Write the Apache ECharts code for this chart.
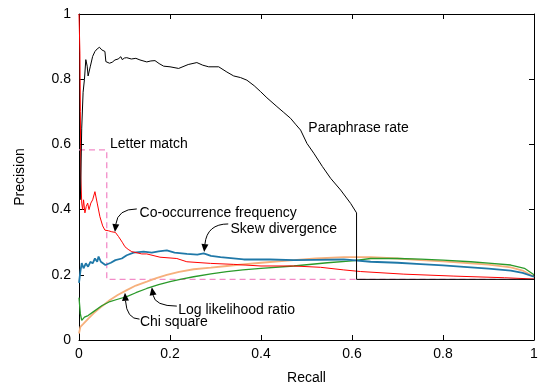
<!DOCTYPE html>
<html><head><meta charset="utf-8">
<script src="https://cdn.jsdelivr.net/npm/echarts@6/dist/echarts.min.js"></script>
<style>html,body{margin:0;padding:0;background:#fff}#c{width:540px;height:385px}</style>
</head><body><div id="c"></div>
<script>
const xTickLabels = ['0','0.2','0.4','0.6','0.8','1'];
const yTickLabels = ['0','0.2','0.4','0.6','0.8','1'];

const letterMatch = [[0,0.583],[0.061,0.583],[0.061,0.186],[1,0.186]];

const paraphraseRate = [[0.003,0.43],[0.006,0.65],[0.009,0.76],[0.012,0.80],[0.015,0.86],[0.018,0.84],[0.02,0.81],[0.025,0.84],[0.03,0.87],[0.035,0.885],[0.04,0.893],[0.045,0.898],[0.05,0.89],[0.054,0.893],[0.057,0.885],[0.059,0.854],[0.063,0.856],[0.067,0.849],[0.073,0.852],[0.079,0.859],[0.086,0.862],[0.092,0.869],[0.095,0.86],[0.1,0.865],[0.105,0.866],[0.115,0.862],[0.125,0.864],[0.134,0.859],[0.149,0.853],[0.158,0.856],[0.167,0.857],[0.176,0.848],[0.186,0.84],[0.2,0.838],[0.219,0.833],[0.24,0.845],[0.259,0.851],[0.272,0.843],[0.285,0.838],[0.307,0.838],[0.325,0.822],[0.34,0.81],[0.355,0.805],[0.369,0.797],[0.385,0.78],[0.399,0.762],[0.413,0.743],[0.435,0.716],[0.45,0.698],[0.465,0.68],[0.477,0.66],[0.487,0.644],[0.501,0.603],[0.516,0.573],[0.535,0.532],[0.553,0.496],[0.575,0.46],[0.597,0.419],[0.61,0.39],[0.61,0.186],[1,0.186]];

const cooccurrence = [[0,1],[0.002,0.88],[0.003,0.7],[0.004,0.5],[0.006,0.42],[0.008,0.4],[0.01,0.43],[0.013,0.39],[0.016,0.41],[0.019,0.42],[0.022,0.40],[0.026,0.42],[0.03,0.43],[0.035,0.455],[0.04,0.42],[0.046,0.378],[0.052,0.35],[0.057,0.337],[0.065,0.335],[0.072,0.332],[0.08,0.33],[0.087,0.317],[0.095,0.3],[0.101,0.286],[0.108,0.278],[0.116,0.271],[0.138,0.264],[0.149,0.264],[0.178,0.254],[0.215,0.25],[0.237,0.24],[0.289,0.235],[0.34,0.232],[0.4,0.227],[0.472,0.227],[0.531,0.223],[0.582,0.215],[0.619,0.21],[0.714,0.202],[0.824,0.196],[0.935,0.191],[1,0.187]];

const skewDivergence = [[0,0.175],[0.003,0.21],[0.006,0.236],[0.01,0.22],[0.015,0.235],[0.02,0.225],[0.025,0.24],[0.03,0.235],[0.035,0.25],[0.04,0.24],[0.043,0.256],[0.048,0.24],[0.052,0.245],[0.058,0.23],[0.061,0.225],[0.07,0.237],[0.08,0.245],[0.094,0.25],[0.105,0.26],[0.12,0.268],[0.142,0.271],[0.16,0.268],[0.175,0.272],[0.193,0.275],[0.21,0.268],[0.237,0.264],[0.26,0.262],[0.274,0.266],[0.29,0.258],[0.311,0.254],[0.362,0.247],[0.42,0.247],[0.472,0.245],[0.52,0.246],[0.582,0.247],[0.641,0.24],[0.7,0.237],[0.751,0.233],[0.8,0.229],[0.861,0.223],[0.9,0.219],[0.949,0.213],[0.975,0.206],[1,0.194]];

const chiSquare = [[0,0.02],[0.003,0.04],[0.01,0.05],[0.02,0.065],[0.032,0.082],[0.05,0.103],[0.068,0.123],[0.085,0.138],[0.105,0.153],[0.125,0.167],[0.149,0.179],[0.17,0.19],[0.193,0.2],[0.22,0.209],[0.252,0.217],[0.29,0.222],[0.325,0.227],[0.36,0.232],[0.4,0.237],[0.472,0.245],[0.52,0.25],[0.582,0.254],[0.641,0.254],[0.7,0.25],[0.751,0.245],[0.8,0.241],[0.861,0.235],[0.9,0.231],[0.949,0.223],[0.975,0.213],[1,0.194]];

const logLikelihood = [[0,0.13],[0.003,0.08],[0.006,0.06],[0.012,0.07],[0.02,0.075],[0.032,0.087],[0.05,0.105],[0.068,0.118],[0.085,0.125],[0.105,0.133],[0.125,0.145],[0.149,0.158],[0.175,0.17],[0.2,0.179],[0.225,0.187],[0.252,0.194],[0.29,0.203],[0.325,0.21],[0.36,0.215],[0.4,0.22],[0.472,0.227],[0.546,0.237],[0.6,0.243],[0.641,0.25],[0.7,0.25],[0.751,0.248],[0.8,0.245],[0.861,0.24],[0.9,0.236],[0.949,0.23],[0.979,0.22],[1,0.2]];

// annotation anchors in data coordinates
const labelNames = ['Paraphrase rate','Letter match','Co-occurrence frequency','Skew divergence','Log likelihood ratio','Chi square'];
const labelAt = [[0.504,0.65],[0.068,0.60],[0.133,0.389],[0.333,0.34],[0.218,0.092],[0.134,0.056]];
const arrowFrom = [null,null,[0.127,0.402],[0.328,0.356],[0.215,0.104],[0.133,0.064]];
const arrowTo = [null,null,[0.079,0.331],[0.275,0.27],[0.16,0.162],[0.101,0.145]];

const FONT = '"Liberation Sans", Arial, sans-serif';
const FS = 14;
const chart = echarts.init(document.getElementById('c'), null, {renderer:'canvas'});

function line(name, data, color, width, z, dashed) {
  return {name, type:'line', data, showSymbol:false, symbol:'none', z,
    lineStyle:{color, width, type: dashed ? [6,4] : 'solid'}, animation:false, silent:true};
}
const axisCommon = {type:'value', min:0, max:1, interval:0.2,
  axisLine:{show:true, onZero:false, lineStyle:{color:'#000', width:1}},
  axisTick:{show:true, inside:true, length:5, lineStyle:{color:'#000'}},
  splitLine:{show:false},
  nameTextStyle:{color:'#000', fontSize:FS, fontFamily:FONT}};

chart.setOption({
  animation:false,
  grid:{left:79, right:6, top:14, bottom:45, containLabel:false, outerBoundsMode:'none'},
  xAxis:[
    Object.assign({}, axisCommon, {position:'bottom', name:'Recall', nameLocation:'middle', nameGap:31,
      axisLabel:{color:'#000', fontSize:FS, fontFamily:FONT, margin:7,
        formatter:(v)=>xTickLabels[Math.round(v/0.2)]}}),
    Object.assign({}, axisCommon, {position:'top', axisLabel:{show:false}})
  ],
  yAxis:[
    Object.assign({}, axisCommon, {position:'left', name:'Precision', nameLocation:'middle', nameGap:52,
      axisLabel:{color:'#000', fontSize:FS, fontFamily:FONT, margin:8,
        formatter:(v)=>yTickLabels[Math.round(v/0.2)]}}),
    Object.assign({}, axisCommon, {position:'right', axisLabel:{show:false}})
  ],
  series:[
    line('Letter match', letterMatch, '#f28cc8', 1.3, 1, true),
    line('Chi square', chiSquare, '#f6b07c', 1.8, 2),
    line('Log likelihood ratio', logLikelihood, '#2a9a2a', 1.3, 3),
    line('Skew divergence', skewDivergence, '#1f78a8', 1.8, 4),
    line('Co-occurrence frequency', cooccurrence, '#ff0000', 1, 5),
    line('Paraphrase rate', paraphraseRate, '#000000', 1, 6)
  ]
});

function px(p){ return chart.convertToPixel({xAxisIndex:0, yAxisIndex:0}, p); }
const graphics = [];
labelNames.forEach((t,i)=>{
  const p = px(labelAt[i]);
  graphics.push({type:'text', x:p[0], y:p[1], z:100, silent:true,
    style:{text:t, font:FS + 'px ' + FONT, fill:'#000', align:'left', verticalAlign:'middle',
      textAlign:'left', textVerticalAlign:'middle'}});
  if (arrowFrom[i]) {
    const s = px(arrowFrom[i]), e = px(arrowTo[i]);
    const c = [e[0] + (s[0]-e[0])*0.12, s[1]];
    let dx = e[0]-c[0], dy = e[1]-c[1];
    const L = Math.hypot(dx,dy); dx/=L; dy/=L;
    const hl = 8, hw = 3.5;
    const b = [e[0]-dx*hl, e[1]-dy*hl];
    graphics.push({type:'bezierCurve', z:100, silent:true,
      shape:{x1:s[0], y1:s[1], x2:b[0], y2:b[1], cpx1:c[0], cpy1:c[1]},
      style:{stroke:'#000', lineWidth:1, fill:null}});
    graphics.push({type:'polygon', z:100, silent:true,
      shape:{points:[[e[0],e[1]],[b[0]-dy*hw,b[1]+dx*hw],[b[0]+dy*hw,b[1]-dx*hw]]},
      style:{fill:'#000', stroke:null}});
  }
});
chart.setOption({graphic:graphics});
</script></body></html>
